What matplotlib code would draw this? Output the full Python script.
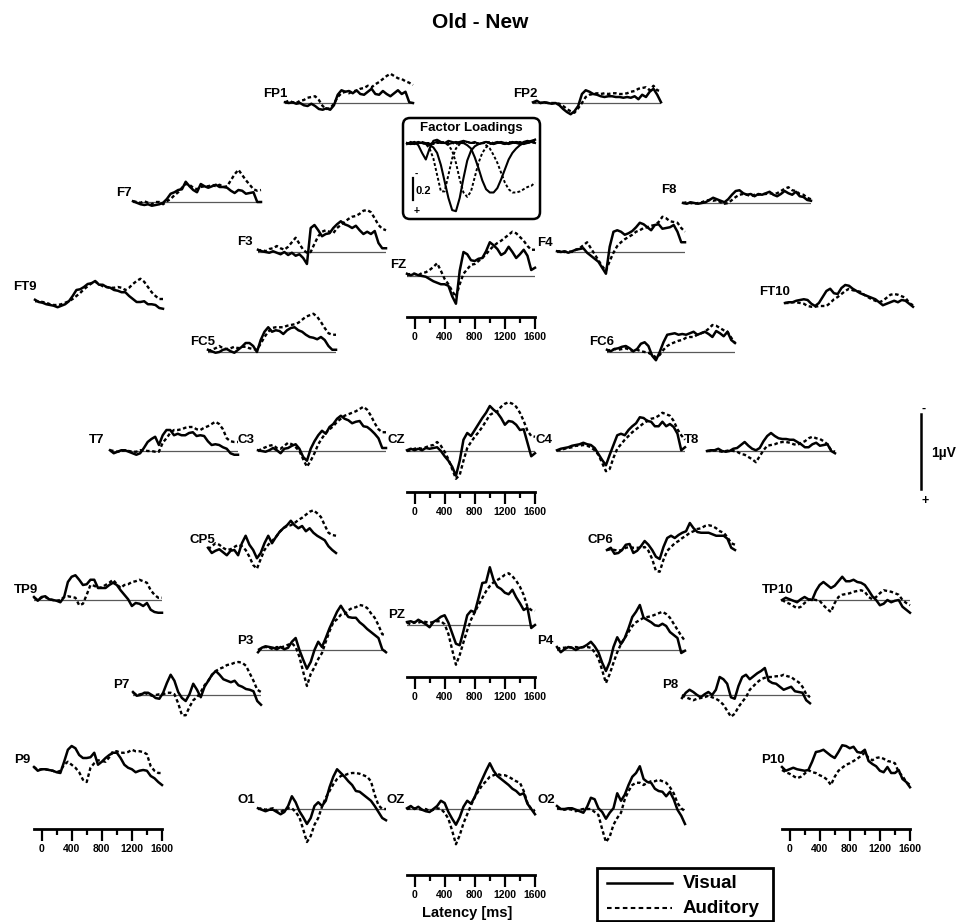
import numpy as np
import matplotlib
matplotlib.use('Agg')
import matplotlib.pyplot as plt
from matplotlib.patches import FancyBboxPatch, Rectangle

plt.rcParams['font.family'] = ['Liberation Sans', 'DejaVu Sans']

W, H = 959, 922
PX_PER_UV = 75.0      # 1 uV scale bar length in pixels
PX_PER_LOAD = 110.0   # factor loading scale
PANEL_W = 128         # -100 .. 1600 ms

# sample times (ms), 50 ms steps
times = np.arange(-100, 1601, 50)
ruler_major = [0, 400, 800, 1200, 1600]
ruler_minor = [200, 600, 1000, 1400]

# Old - New difference waves in uV (negative up), visual / auditory
fp1_vis = [-0.01, 0, -0.01, 0.01, 0, 0.03, 0.04, 0.01, 0.04, 0.08, 0.09, 0.07, 0.09, 0.03, -0.11, -0.17, -0.15, -0.16, -0.13, -0.17, -0.12, -0.11, -0.15, -0.19, -0.12, -0.11, -0.16, -0.12, -0.09, -0.13, -0.17, -0.12, -0.15, -0.01, 0]
fp1_aud = [-0.01, -0.03, -0.01, 0, -0.03, -0.04, -0.07, -0.08, -0.09, -0.04, 0.04, 0.08, 0.07, 0.01, -0.08, -0.13, -0.15, -0.13, -0.16, -0.16, -0.19, -0.2, -0.23, -0.21, -0.25, -0.28, -0.32, -0.36, -0.39, -0.36, -0.33, -0.32, -0.29, -0.27, -0.24]
fp2_vis = [-0.01, -0.03, 0, -0.01, 0, 0.01, 0, 0.03, 0.08, 0.12, 0.15, 0.11, 0.04, -0.12, -0.17, -0.15, -0.12, -0.11, -0.09, -0.08, -0.09, -0.09, -0.08, -0.08, -0.07, -0.08, -0.07, -0.09, -0.05, -0.11, -0.08, -0.15, -0.19, -0.11, -0.01]
fp2_aud = [-0.01, -0.01, 0, -0.01, 0, 0, 0, 0.01, 0.04, 0.08, 0.11, 0.13, 0.07, 0, -0.08, -0.11, -0.12, -0.13, -0.12, -0.13, -0.12, -0.13, -0.13, -0.12, -0.12, -0.13, -0.15, -0.16, -0.19, -0.2, -0.21, -0.17, -0.23, -0.17, -0.16]
f7_vis = [-0.01, 0.01, 0.03, 0.04, 0.03, 0.05, 0.04, 0.03, 0.01, -0.04, -0.11, -0.13, -0.16, -0.17, -0.27, -0.21, -0.16, -0.13, -0.24, -0.21, -0.19, -0.21, -0.23, -0.2, -0.2, -0.19, -0.15, -0.12, -0.16, -0.15, -0.11, -0.12, -0.13, 0, 0]
f7_aud = [-0.01, 0, 0.01, -0.01, 0.01, 0.03, 0, 0, 0.03, -0.01, -0.04, -0.09, -0.13, -0.19, -0.24, -0.23, -0.19, -0.17, -0.2, -0.21, -0.21, -0.23, -0.21, -0.23, -0.2, -0.21, -0.29, -0.37, -0.43, -0.36, -0.29, -0.23, -0.17, -0.15, -0.16]
f3_vis = [-0.03, -0.01, 0, 0.01, -0.01, 0.01, 0.03, 0, 0.04, 0.01, 0.05, 0.03, 0.08, 0.16, -0.32, -0.36, -0.29, -0.21, -0.24, -0.25, -0.32, -0.37, -0.41, -0.37, -0.35, -0.32, -0.35, -0.29, -0.24, -0.27, -0.24, -0.28, -0.12, -0.05, -0.05]
f3_aud = [-0.01, -0.03, -0.01, -0.04, -0.05, -0.08, -0.05, -0.03, -0.07, -0.13, -0.19, -0.11, -0.03, 0.01, 0, -0.11, -0.21, -0.27, -0.29, -0.27, -0.25, -0.32, -0.36, -0.4, -0.44, -0.47, -0.48, -0.51, -0.55, -0.56, -0.53, -0.45, -0.36, -0.31, -0.29]
fz_vis = [-0.03, -0.01, -0.03, -0.01, 0, 0.01, 0.04, 0.07, 0.09, 0.11, 0.11, 0.13, 0.27, 0.37, -0.07, -0.32, -0.29, -0.21, -0.2, -0.23, -0.24, -0.33, -0.45, -0.41, -0.36, -0.28, -0.31, -0.39, -0.32, -0.24, -0.29, -0.35, -0.27, -0.08, -0.11]
fz_aud = [-0.01, -0.03, -0.03, -0.01, -0.04, -0.05, -0.08, -0.12, -0.17, -0.07, 0.04, 0.11, 0.2, 0.28, 0.11, -0.03, -0.09, -0.15, -0.16, -0.2, -0.24, -0.29, -0.35, -0.4, -0.44, -0.47, -0.51, -0.55, -0.59, -0.57, -0.52, -0.47, -0.4, -0.35, -0.35]
f4_vis = [-0.01, 0, -0.01, 0.01, -0.01, -0.03, -0.04, -0.05, 0.01, 0.05, 0.09, 0.13, 0.21, 0.29, -0.07, -0.27, -0.29, -0.27, -0.23, -0.25, -0.28, -0.33, -0.39, -0.37, -0.33, -0.29, -0.36, -0.37, -0.31, -0.32, -0.33, -0.36, -0.27, -0.13, -0.13]
f4_aud = [-0.01, -0.01, 0, -0.01, 0, -0.03, -0.05, -0.09, -0.13, -0.05, 0.03, 0.11, 0.19, 0.25, 0.12, 0.01, -0.08, -0.13, -0.17, -0.2, -0.23, -0.27, -0.29, -0.32, -0.33, -0.35, -0.36, -0.4, -0.47, -0.45, -0.41, -0.4, -0.39, -0.32, -0.27]
f8_vis = [0, 0.01, -0.01, 0, 0.01, 0, -0.01, -0.04, -0.07, -0.05, -0.03, -0.01, -0.05, -0.11, -0.16, -0.17, -0.13, -0.11, -0.12, -0.09, -0.12, -0.11, -0.13, -0.15, -0.11, -0.09, -0.12, -0.16, -0.13, -0.11, -0.15, -0.09, -0.08, -0.04, -0.03]
f8_aud = [0, -0.01, 0, 0.01, 0, -0.01, -0.03, -0.04, -0.03, -0.04, -0.01, 0.01, 0, -0.04, -0.08, -0.11, -0.12, -0.11, -0.09, -0.11, -0.11, -0.12, -0.12, -0.13, -0.12, -0.13, -0.16, -0.19, -0.21, -0.17, -0.16, -0.12, -0.11, -0.07, -0.05]
ft9_vis = [-0.03, 0, 0.01, 0.03, 0.04, 0.05, 0.07, 0.05, 0.03, -0.01, -0.08, -0.16, -0.17, -0.2, -0.24, -0.25, -0.28, -0.23, -0.23, -0.2, -0.19, -0.16, -0.15, -0.13, -0.13, -0.08, -0.04, 0, 0, -0.01, 0.03, 0.03, 0.04, 0.08, 0.09]
ft9_aud = [-0.01, -0.01, 0, 0.01, 0.03, 0.04, 0.04, 0.03, 0.01, -0.01, -0.04, -0.08, -0.12, -0.17, -0.21, -0.25, -0.27, -0.24, -0.21, -0.2, -0.19, -0.19, -0.2, -0.19, -0.16, -0.19, -0.24, -0.28, -0.31, -0.27, -0.2, -0.13, -0.08, -0.04, -0.04]
ft10_vis = [0, -0.01, -0.01, -0.03, -0.04, -0.05, -0.04, 0.01, 0.04, 0, -0.08, -0.16, -0.19, -0.13, -0.12, -0.2, -0.24, -0.23, -0.19, -0.16, -0.13, -0.11, -0.09, -0.07, -0.05, -0.01, 0.03, 0.01, -0.01, -0.03, -0.01, -0.04, -0.03, 0.01, 0.05]
ft10_aud = [0, 0, -0.01, -0.01, 0, 0.01, 0.04, 0.05, 0.05, 0.04, 0.04, 0.04, 0, -0.05, -0.08, -0.12, -0.16, -0.19, -0.17, -0.16, -0.15, -0.11, -0.08, -0.05, -0.03, -0.01, -0.03, -0.07, -0.11, -0.12, -0.11, -0.09, -0.07, 0, 0.03]
fc5_vis = [-0.03, -0.01, 0.01, 0, -0.03, -0.04, -0.01, 0.01, -0.03, -0.07, -0.12, -0.12, -0.08, 0, -0.16, -0.27, -0.33, -0.27, -0.29, -0.28, -0.24, -0.29, -0.32, -0.33, -0.29, -0.27, -0.23, -0.2, -0.19, -0.17, -0.2, -0.16, -0.08, -0.03, -0.03]
fc5_aud = [-0.01, -0.03, -0.05, -0.08, -0.05, -0.04, -0.05, -0.07, -0.05, -0.07, -0.07, -0.05, -0.04, -0.03, -0.11, -0.2, -0.27, -0.32, -0.33, -0.33, -0.33, -0.35, -0.36, -0.37, -0.39, -0.43, -0.47, -0.49, -0.51, -0.47, -0.4, -0.32, -0.25, -0.23, -0.23]
fc6_vis = [-0.03, -0.01, -0.04, -0.05, -0.07, -0.08, -0.05, -0.01, -0.04, -0.11, -0.13, -0.08, 0.05, 0.11, 0, -0.13, -0.23, -0.24, -0.25, -0.23, -0.24, -0.23, -0.25, -0.27, -0.23, -0.25, -0.27, -0.24, -0.2, -0.28, -0.25, -0.21, -0.27, -0.16, -0.12]
fc6_aud = [-0.01, -0.03, -0.04, -0.03, -0.04, -0.05, -0.03, -0.01, -0.03, -0.01, 0, 0.01, 0.04, 0.07, 0.04, -0.03, -0.08, -0.11, -0.13, -0.15, -0.16, -0.19, -0.2, -0.2, -0.23, -0.25, -0.27, -0.31, -0.36, -0.35, -0.32, -0.29, -0.27, -0.19, -0.12]
t7_vis = [-0.01, 0.03, 0.01, -0.01, -0.01, 0.01, 0.03, 0.05, 0.03, -0.04, -0.12, -0.16, -0.19, -0.08, -0.21, -0.28, -0.28, -0.21, -0.23, -0.21, -0.21, -0.24, -0.25, -0.2, -0.21, -0.2, -0.13, -0.08, -0.09, -0.08, -0.05, -0.03, 0.03, 0.05, 0.05]
t7_aud = [-0.01, 0, 0.01, 0, -0.01, 0, 0.01, 0.01, -0.01, -0.01, 0, 0, 0.01, 0.01, -0.11, -0.17, -0.24, -0.28, -0.28, -0.29, -0.31, -0.32, -0.32, -0.29, -0.28, -0.31, -0.33, -0.36, -0.39, -0.36, -0.29, -0.17, -0.13, -0.12, -0.12]
c3_vis = [-0.01, 0, 0.01, -0.01, -0.04, -0.01, 0.03, -0.03, -0.04, -0.07, -0.09, -0.03, 0.08, 0.13, -0.03, -0.13, -0.21, -0.27, -0.23, -0.32, -0.36, -0.43, -0.47, -0.43, -0.41, -0.37, -0.39, -0.4, -0.33, -0.32, -0.28, -0.23, -0.17, -0.04, -0.04]
c3_aud = [0, -0.03, -0.05, -0.07, -0.08, -0.04, -0.03, -0.07, -0.11, -0.09, -0.05, 0, 0.11, 0.21, 0.13, 0.03, -0.09, -0.17, -0.24, -0.29, -0.33, -0.39, -0.43, -0.47, -0.49, -0.51, -0.53, -0.56, -0.59, -0.55, -0.47, -0.37, -0.29, -0.25, -0.25]
cz_vis = [-0.01, -0.03, -0.01, -0.03, -0.01, -0.04, -0.03, -0.04, -0.05, 0, 0.07, 0.13, 0.21, 0.33, 0.13, -0.15, -0.24, -0.2, -0.28, -0.36, -0.44, -0.51, -0.6, -0.55, -0.51, -0.44, -0.35, -0.4, -0.39, -0.35, -0.28, -0.29, -0.11, 0.07, 0.03]
cz_aud = [0, -0.01, -0.03, -0.04, -0.03, -0.05, -0.07, -0.08, -0.12, -0.07, 0.01, 0.11, 0.24, 0.37, 0.32, 0.13, -0.04, -0.12, -0.19, -0.25, -0.32, -0.4, -0.48, -0.51, -0.53, -0.59, -0.63, -0.65, -0.63, -0.59, -0.51, -0.4, -0.27, -0.2, -0.19]
c4_vis = [-0.01, -0.03, -0.04, -0.05, -0.07, -0.08, -0.09, -0.11, -0.09, -0.08, -0.04, 0.04, 0.12, 0.19, 0.05, -0.08, -0.21, -0.23, -0.21, -0.28, -0.33, -0.37, -0.45, -0.44, -0.4, -0.39, -0.33, -0.33, -0.39, -0.33, -0.36, -0.32, -0.23, -0.01, -0.05]
c4_aud = [-0.01, -0.01, -0.03, -0.04, -0.05, -0.07, -0.07, -0.08, -0.07, -0.05, -0.01, 0.05, 0.16, 0.27, 0.24, 0.09, -0.03, -0.09, -0.15, -0.2, -0.25, -0.29, -0.33, -0.37, -0.4, -0.43, -0.44, -0.47, -0.51, -0.49, -0.47, -0.4, -0.29, -0.21, -0.15]
t8_vis = [0, -0.01, -0.01, -0.03, 0, 0.01, 0, -0.03, -0.04, -0.08, -0.12, -0.07, -0.03, -0.01, -0.04, -0.13, -0.2, -0.24, -0.2, -0.17, -0.16, -0.16, -0.15, -0.15, -0.12, -0.09, -0.05, -0.05, -0.09, -0.11, -0.07, -0.08, -0.09, 0, 0.03]
t8_aud = [0, 0, -0.01, 0, 0.01, 0, -0.01, 0, 0.01, 0.04, 0.05, 0.08, 0.11, 0.15, 0.07, -0.01, -0.07, -0.08, -0.09, -0.11, -0.12, -0.12, -0.11, -0.09, -0.08, -0.11, -0.13, -0.17, -0.19, -0.17, -0.16, -0.13, -0.09, -0.01, 0.01]
cp5_vis = [-0.07, 0, -0.03, -0.05, -0.01, 0.03, -0.03, -0.04, 0.03, -0.13, -0.23, -0.11, -0.04, 0.07, 0, -0.13, -0.23, -0.13, -0.21, -0.28, -0.33, -0.37, -0.43, -0.37, -0.33, -0.36, -0.29, -0.33, -0.27, -0.23, -0.2, -0.17, -0.09, -0.04, 0]
cp5_aud = [-0.05, -0.09, -0.13, -0.11, -0.07, -0.04, -0.05, -0.08, -0.11, -0.09, -0.04, 0.05, 0.16, 0.21, 0.08, -0.04, -0.11, -0.16, -0.21, -0.28, -0.33, -0.36, -0.37, -0.4, -0.44, -0.47, -0.51, -0.55, -0.57, -0.53, -0.48, -0.37, -0.27, -0.24, -0.23]
cp6_vis = [-0.04, -0.07, 0.01, 0, -0.04, -0.11, -0.12, 0, -0.03, -0.09, -0.16, -0.11, -0.04, 0.05, 0.08, -0.08, -0.2, -0.23, -0.2, -0.24, -0.27, -0.29, -0.4, -0.33, -0.28, -0.27, -0.27, -0.27, -0.25, -0.23, -0.23, -0.23, -0.19, -0.07, -0.04]
cp6_aud = [-0.04, -0.05, -0.04, -0.03, -0.04, -0.07, -0.08, -0.07, -0.07, -0.07, -0.08, -0.03, 0.08, 0.24, 0.25, 0.09, -0.03, -0.08, -0.13, -0.16, -0.2, -0.23, -0.27, -0.29, -0.32, -0.33, -0.36, -0.37, -0.36, -0.33, -0.29, -0.27, -0.21, -0.13, -0.11]
tp9_vis = [-0.04, 0.01, -0.04, -0.05, -0.01, 0, 0.01, 0.03, -0.04, -0.24, -0.31, -0.33, -0.27, -0.2, -0.21, -0.27, -0.27, -0.16, -0.16, -0.16, -0.2, -0.23, -0.2, -0.13, -0.07, -0.01, 0.08, 0.04, 0.05, 0.08, 0.04, 0.13, 0.16, 0.17, 0.17]
tp9_aud = [-0.03, 0, -0.03, -0.04, -0.01, 0, 0.01, 0, -0.04, -0.05, -0.04, -0.03, 0.07, 0.05, -0.07, -0.2, -0.19, -0.16, -0.17, -0.2, -0.23, -0.27, -0.21, -0.16, -0.2, -0.21, -0.24, -0.25, -0.27, -0.25, -0.23, -0.13, -0.07, -0.03, -0.03]
tp10_vis = [0, -0.03, -0.01, 0.01, 0.03, -0.01, -0.04, -0.01, 0, -0.12, -0.2, -0.24, -0.2, -0.16, -0.19, -0.25, -0.31, -0.25, -0.25, -0.27, -0.24, -0.23, -0.2, -0.13, -0.05, 0, 0.07, 0.05, 0, 0.03, 0.01, 0, 0.09, 0.13, 0.17]
tp10_aud = [0, 0.03, 0.05, 0.08, 0.11, 0.09, 0.04, 0, -0.01, 0, 0.01, 0.07, 0.12, 0.16, 0.04, -0.04, -0.07, -0.08, -0.09, -0.11, -0.12, -0.13, -0.11, -0.04, -0.01, -0.04, -0.09, -0.13, -0.12, -0.11, -0.09, -0.07, 0, 0.04, 0.07]
p3_vis = [0.03, -0.03, -0.05, -0.04, -0.03, -0.01, -0.04, -0.01, -0.03, -0.11, -0.16, 0, 0.13, 0.25, 0.16, 0, -0.11, -0.04, -0.16, -0.29, -0.4, -0.51, -0.59, -0.51, -0.44, -0.43, -0.43, -0.37, -0.33, -0.28, -0.24, -0.2, -0.16, -0.01, 0.03]
p3_aud = [0, -0.03, -0.04, -0.03, -0.01, -0.04, -0.03, -0.05, -0.07, -0.09, -0.04, 0.09, 0.29, 0.48, 0.32, 0.23, 0.12, 0.04, -0.11, -0.25, -0.37, -0.41, -0.47, -0.48, -0.53, -0.56, -0.57, -0.6, -0.59, -0.56, -0.49, -0.43, -0.33, -0.21, -0.2]
pz_vis = [-0.04, -0.05, -0.03, -0.07, -0.04, -0.01, 0.03, -0.04, -0.07, -0.11, -0.13, -0.03, 0.11, 0.25, 0.27, 0.08, -0.13, -0.19, -0.17, -0.36, -0.56, -0.57, -0.77, -0.6, -0.51, -0.48, -0.43, -0.41, -0.47, -0.37, -0.29, -0.2, -0.23, 0.04, 0]
pz_aud = [-0.03, -0.01, -0.04, -0.03, -0.05, -0.04, -0.03, -0.04, -0.05, -0.05, -0.01, 0.12, 0.33, 0.53, 0.4, 0.23, 0.07, -0.07, -0.17, -0.27, -0.36, -0.45, -0.52, -0.57, -0.6, -0.63, -0.67, -0.69, -0.65, -0.59, -0.51, -0.4, -0.24, -0.2, -0.19]
p4_vis = [-0.04, 0.03, -0.01, -0.04, -0.03, 0, -0.03, -0.04, -0.07, -0.11, -0.05, 0.03, 0.17, 0.28, 0.16, -0.04, -0.17, -0.08, -0.16, -0.29, -0.44, -0.51, -0.6, -0.43, -0.4, -0.37, -0.33, -0.32, -0.35, -0.32, -0.24, -0.2, -0.16, 0.04, 0.01]
p4_aud = [-0.01, -0.03, -0.03, -0.04, -0.03, -0.04, -0.03, -0.04, -0.04, -0.03, 0.03, 0.11, 0.27, 0.44, 0.32, 0.17, 0.03, -0.08, -0.16, -0.24, -0.32, -0.37, -0.4, -0.43, -0.44, -0.45, -0.47, -0.49, -0.51, -0.48, -0.43, -0.35, -0.27, -0.19, -0.12]
p7_vis = [-0.04, 0.01, 0, -0.03, -0.03, 0, 0.04, 0.05, -0.03, -0.16, -0.27, -0.19, -0.04, 0.04, 0.08, -0.01, -0.15, -0.07, 0.03, -0.11, -0.19, -0.27, -0.32, -0.27, -0.21, -0.19, -0.17, -0.19, -0.13, -0.11, -0.08, -0.07, -0.05, 0.08, 0.13]
p7_aud = [-0.03, 0, -0.01, -0.03, -0.01, 0.01, 0, -0.01, -0.01, -0.03, -0.03, -0.01, 0.11, 0.27, 0.27, 0.16, 0.07, 0.03, -0.04, -0.13, -0.19, -0.27, -0.32, -0.35, -0.37, -0.4, -0.41, -0.43, -0.44, -0.43, -0.39, -0.29, -0.19, -0.07, -0.04]
p8_vis = [0.04, -0.03, -0.07, -0.04, 0, 0.03, -0.01, -0.04, 0, -0.07, -0.24, -0.21, -0.15, 0.03, 0.05, -0.12, -0.24, -0.27, -0.21, -0.25, -0.29, -0.32, -0.36, -0.19, -0.16, -0.15, -0.11, -0.07, -0.09, -0.11, -0.05, -0.04, -0.03, 0.07, 0.11]
p8_aud = [0, 0.03, 0.05, 0.07, 0.05, 0.04, 0.03, 0.01, 0.03, 0.05, 0.08, 0.13, 0.21, 0.29, 0.25, 0.16, 0.09, 0.03, -0.07, -0.12, -0.17, -0.21, -0.23, -0.24, -0.24, -0.25, -0.25, -0.27, -0.25, -0.24, -0.2, -0.17, -0.11, -0.01, 0.03]
p9_vis = [-0.04, 0.01, -0.01, -0.01, 0, 0.01, 0.03, 0.04, -0.11, -0.27, -0.32, -0.29, -0.2, -0.16, -0.16, -0.17, -0.23, -0.07, -0.11, -0.16, -0.2, -0.23, -0.23, -0.16, -0.07, -0.03, -0.01, 0.03, 0.01, 0, 0.01, 0.08, 0.11, 0.16, 0.2]
p9_aud = [-0.04, 0, -0.01, -0.01, 0, 0.01, 0.03, 0.01, -0.07, -0.11, -0.07, -0.03, 0.03, 0.13, 0.16, -0.03, -0.09, -0.13, -0.12, -0.11, -0.17, -0.25, -0.25, -0.23, -0.23, -0.24, -0.27, -0.25, -0.25, -0.24, -0.21, -0.05, 0.01, 0.04, 0.04]
p10_vis = [-0.04, 0.01, -0.01, -0.03, -0.01, 0, 0.01, 0, -0.11, -0.24, -0.25, -0.27, -0.23, -0.19, -0.16, -0.24, -0.33, -0.32, -0.29, -0.31, -0.24, -0.23, -0.27, -0.12, -0.08, -0.05, 0.01, 0.03, -0.04, 0.04, 0.04, 0, 0.12, 0.16, 0.23]
p10_aud = [0, 0.03, 0.05, 0.08, 0.11, 0.09, 0.05, 0, 0.03, 0.04, 0.07, 0.09, 0.13, 0.2, 0.09, 0.01, -0.03, -0.07, -0.09, -0.12, -0.15, -0.19, -0.23, -0.16, -0.13, -0.16, -0.17, -0.15, -0.12, -0.11, -0.09, 0.03, 0.08, 0.16, 0.2]
o1_vis = [-0.01, 0.01, 0.03, 0.01, 0.01, 0.04, 0.07, 0.04, -0.04, -0.17, -0.09, 0.03, 0.11, 0.2, 0.12, -0.04, -0.09, -0.04, -0.11, -0.29, -0.43, -0.53, -0.48, -0.43, -0.37, -0.32, -0.24, -0.23, -0.19, -0.15, -0.11, -0.04, 0.04, 0.12, 0.15]
o1_aud = [0, -0.01, 0.01, 0, -0.01, 0.03, 0.04, 0.01, -0.01, -0.01, 0.04, 0.11, 0.27, 0.44, 0.36, 0.21, 0.12, -0.03, -0.15, -0.24, -0.33, -0.4, -0.44, -0.45, -0.47, -0.48, -0.48, -0.47, -0.45, -0.43, -0.37, -0.19, -0.05, 0, 0]
oz_vis = [-0.01, -0.04, 0, -0.03, 0.01, 0.03, 0.04, 0, -0.04, -0.11, -0.08, 0.04, 0.13, 0.21, 0.11, -0.03, -0.11, -0.07, -0.16, -0.29, -0.4, -0.51, -0.61, -0.51, -0.44, -0.4, -0.36, -0.32, -0.27, -0.24, -0.19, -0.21, -0.07, 0, 0.07]
oz_aud = [0, -0.01, -0.01, 0, 0.01, 0, 0.03, 0.01, -0.01, 0, 0.05, 0.13, 0.29, 0.47, 0.35, 0.19, 0.07, -0.05, -0.16, -0.24, -0.32, -0.37, -0.43, -0.45, -0.47, -0.45, -0.45, -0.43, -0.4, -0.37, -0.35, -0.24, -0.08, 0, 0.03]
o2_vis = [-0.04, 0, 0, -0.01, -0.01, 0.01, 0.03, 0.05, -0.03, -0.15, -0.13, -0.01, 0.04, 0.13, 0.05, -0.01, -0.21, -0.11, -0.19, -0.32, -0.43, -0.48, -0.57, -0.4, -0.36, -0.35, -0.27, -0.24, -0.23, -0.17, -0.23, -0.13, 0.01, 0.09, 0.2]
o2_aud = [-0.01, 0, 0.01, 0, 0.01, 0.03, 0.01, 0, 0, 0, 0.04, 0.08, 0.27, 0.44, 0.37, 0.21, 0.12, 0.05, -0.13, -0.24, -0.32, -0.35, -0.35, -0.32, -0.35, -0.37, -0.37, -0.39, -0.37, -0.35, -0.29, -0.21, -0.08, -0.01, 0.03]

# PCA factor loadings (positive down)
load_solid_a = [0.01, -0.01, 0.01, 0, 0, 0.01, 0.02, 0.04, 0.09, 0.2, 0.35, 0.5, 0.61, 0.62, 0.5, 0.32, 0.16, 0.07, 0.03, 0.01, 0, -0.01, 0, 0.01, 0, -0.01, 0, 0.01, 0, -0.01, 0, 0.01, 0, -0.01, 0]
load_solid_b = [0, 0.01, 0, -0.01, 0, 0, 0.01, 0, -0.01, 0, 0, 0.01, 0, -0.01, 0, 0, 0.02, 0.05, 0.13, 0.23, 0.34, 0.42, 0.45, 0.45, 0.41, 0.33, 0.24, 0.15, 0.09, 0.05, 0.02, 0, -0.01, -0.02, -0.03]
load_solid_c = [0, 0.01, -0.01, 0.02, 0.09, 0.15, 0.05, -0.02, -0.03, -0.01, 0, -0.02, -0.01, 0, -0.01, -0.02, -0.01, 0, -0.01, 0.01, 0, -0.01, 0, 0.01, -0.01, 0, 0.01, 0, -0.01, 0, 0.01, -0.01, -0.02, -0.01, -0.03]
load_dash_a = [0, 0, 0.01, 0, 0, 0.01, 0.05, 0.14, 0.29, 0.44, 0.44, 0.29, 0.14, 0.05, 0.01, 0, -0.01, 0, 0, 0.01, 0, 0, -0.01, 0, 0, 0, 0.01, 0, 0, -0.01, 0, 0, 0, -0.01, 0]
load_dash_b = [0, 0, -0.01, 0, 0, 0, 0.01, 0, 0, -0.01, 0, 0.02, 0.07, 0.18, 0.33, 0.45, 0.49, 0.44, 0.31, 0.18, 0.09, 0.04, 0.01, 0, -0.01, 0, 0, -0.01, 0, 0, -0.01, 0, 0, -0.01, -0.02]
load_dash_c = [0, 0.01, 0, 0, -0.01, 0, 0, 0.01, 0, 0, -0.01, 0, 0, 0.01, 0, 0, -0.01, 0, 0, 0, 0, 0.02, 0.05, 0.11, 0.18, 0.27, 0.36, 0.42, 0.45, 0.45, 0.44, 0.42, 0.4, 0.39, 0.36]

waves = {
    'FP1': (fp1_vis, fp1_aud), 'FP2': (fp2_vis, fp2_aud),
    'F7': (f7_vis, f7_aud), 'F3': (f3_vis, f3_aud), 'FZ': (fz_vis, fz_aud),
    'F4': (f4_vis, f4_aud), 'F8': (f8_vis, f8_aud),
    'FT9': (ft9_vis, ft9_aud), 'FT10': (ft10_vis, ft10_aud),
    'FC5': (fc5_vis, fc5_aud), 'FC6': (fc6_vis, fc6_aud),
    'T7': (t7_vis, t7_aud), 'C3': (c3_vis, c3_aud), 'CZ': (cz_vis, cz_aud),
    'C4': (c4_vis, c4_aud), 'T8': (t8_vis, t8_aud),
    'CP5': (cp5_vis, cp5_aud), 'CP6': (cp6_vis, cp6_aud),
    'TP9': (tp9_vis, tp9_aud), 'TP10': (tp10_vis, tp10_aud),
    'P3': (p3_vis, p3_aud), 'PZ': (pz_vis, pz_aud), 'P4': (p4_vis, p4_aud),
    'P7': (p7_vis, p7_aud), 'P8': (p8_vis, p8_aud),
    'P9': (p9_vis, p9_aud), 'P10': (p10_vis, p10_aud),
    'O1': (o1_vis, o1_aud), 'OZ': (oz_vis, oz_aud), 'O2': (o2_vis, o2_aud),
}

# layout in pixels: (x of -100 ms, baseline y, label right x, label baseline y)
layout = {
    'FP1': (285, 103, 288, 97), 'FP2': (533, 103, 538, 97),
    'F7': (133, 202, 132, 196), 'F8': (683, 203, 677, 193),
    'F3': (258, 252, 253, 245), 'F4': (557, 252, 553, 246),
    'FZ': (407, 276, 406, 268),
    'FT9': (35, 302, 37, 290), 'FT10': (785, 303, 790, 295),
    'FC5': (208, 352, 215, 345), 'FC6': (607, 352, 614, 345),
    'T7': (110, 451, 104, 443), 'C3': (258, 451, 255, 443),
    'CZ': (407, 451, 405, 443), 'C4': (557, 451, 552, 443),
    'T8': (707, 451, 699, 443),
    'CP5': (208, 553, 215, 543), 'CP6': (607, 553, 613, 543),
    'TP9': (34, 600, 38, 593), 'TP10': (782, 600, 793, 593),
    'PZ': (407, 625, 405, 618),
    'P3': (258, 650, 253, 644), 'P4': (557, 650, 553, 644),
    'P7': (133, 695, 130, 688), 'P8': (682, 695, 678, 688),
    'P9': (34, 770, 30, 763), 'P10': (782, 770, 785, 763),
    'O1': (258, 809, 255, 803), 'OZ': (407, 809, 405, 803),
    'O2': (557, 809, 555, 803),
}
no_baseline = ['FT9', 'FT10', 'CP5', 'CP6', 'P9', 'P10']
rulers = [(407, 317), (407, 492), (407, 677), (407, 875), (34, 829), (782, 829)]

fig = plt.figure(figsize=(W / 100, H / 100), dpi=100)


def px_axes(left, top, width, height):
    ax = fig.add_axes([left / W, 1 - (top + height) / H, width / W, height / H])
    ax.patch.set_visible(False)
    return ax


overlay = px_axes(0, 0, W, H)
overlay.set_xlim(0, W)
overlay.set_ylim(H, 0)
overlay.axis('off')

dash = (0, (1.5, 1.1))

for name, (vis, aud) in waves.items():
    x0, y0, lx, ly = layout[name]
    ax = px_axes(x0, y0 - 80, PANEL_W, 140)
    ax.set_xlim(-100, 1600)
    ax.set_ylim(60 / PX_PER_UV, -80 / PX_PER_UV)
    ax.axis('off')
    if name not in no_baseline:
        ax.axhline(0, color='0.35', lw=0.9)
    ax.plot(times, aud, color='k', lw=1.7, ls=dash, clip_on=False)
    ax.plot(times, vis, color='k', lw=1.8, clip_on=False, solid_joinstyle='round')
    overlay.text(lx, ly, name, ha='right', va='baseline', fontsize=9.5, fontweight='bold')

# latency rulers
for rx, ry in rulers:
    ax = px_axes(rx, ry - 1, PANEL_W, 1)
    ax.set_xlim(-100, 1600)
    for s in ['top', 'left', 'right']:
        ax.spines[s].set_visible(False)
    ax.spines['bottom'].set_linewidth(2)
    ax.set_yticks([])
    ax.set_xticks(ruler_major)
    ax.set_xticks(ruler_minor, minor=True)
    ax.set_xticklabels([str(v) for v in ruler_major], fontweight='bold')
    ax.tick_params(axis='x', which='major', length=8.5, width=1.6, pad=2, labelsize=7.5)
    ax.tick_params(axis='x', which='minor', length=4.3, width=1.6)

overlay.text(467, 913, 'Latency [ms]', ha='center', va='center', fontsize=10.5, fontweight='bold')

# 1 uV scale bar
bar_ax = px_axes(911, 452 - 60, 20, 120)
bar_ax.set_xlim(-1, 1)
bar_ax.set_ylim(60 / PX_PER_UV, -60 / PX_PER_UV)
bar_ax.axis('off')
bar_ax.plot([0, 0], [-0.5, 0.5], color='k', lw=1.8)
overlay.text(924, 409, '-', ha='center', va='center', fontsize=9, fontweight='bold')
overlay.text(925, 501, '+', ha='center', va='center', fontsize=9, fontweight='bold')
overlay.text(931, 453, '1\u00b5V', ha='left', va='center', fontsize=10, fontweight='bold')

# factor loadings inset
overlay.add_patch(FancyBboxPatch((403, 118), 137, 101, boxstyle='round,pad=0,rounding_size=7',
                                 fill=False, ec='k', lw=1.8))
overlay.text(471, 128, 'Factor Loadings', ha='center', va='center', fontsize=9.5, fontweight='bold')
fl_ax = px_axes(407, 130, PANEL_W, 85)
fl_ax.set_xlim(-100, 1600)
fl_ax.set_ylim(72 / PX_PER_LOAD, -13 / PX_PER_LOAD)
fl_ax.axis('off')
for series in [load_dash_a, load_dash_b, load_dash_c]:
    fl_ax.plot(times, series, color='k', lw=1.4, ls=dash, clip_on=False)
for series in [load_solid_c, load_solid_a, load_solid_b]:
    fl_ax.plot(times, series, color='k', lw=1.5, clip_on=False)
fl_ax.plot([-20, -20], [0.32, 0.52], color='k', lw=1.6)
overlay.text(416, 174, '-', ha='center', va='center', fontsize=7, fontweight='bold')
overlay.text(417, 211, '+', ha='center', va='center', fontsize=7.5, fontweight='bold')
overlay.text(416, 191, '0.2', ha='left', va='center', fontsize=8, fontweight='bold')

# legend
overlay.add_patch(Rectangle((597, 868), 176, 53, fill=False, ec='k', lw=2))
overlay.plot([607, 672], [883, 883], color='k', lw=1.8)
overlay.plot([607, 672], [908, 908], color='k', lw=1.5, ls=(0, (2.2, 1.6)))
overlay.text(683, 883, 'Visual', ha='left', va='center', fontsize=13.5, fontweight='bold')
overlay.text(683, 908, 'Auditory', ha='left', va='center', fontsize=13.5, fontweight='bold')

overlay.text(480, 22, 'Old - New', ha='center', va='center', fontsize=15, fontweight='bold')

fig.savefig('out.png', dpi=100, facecolor='white')
